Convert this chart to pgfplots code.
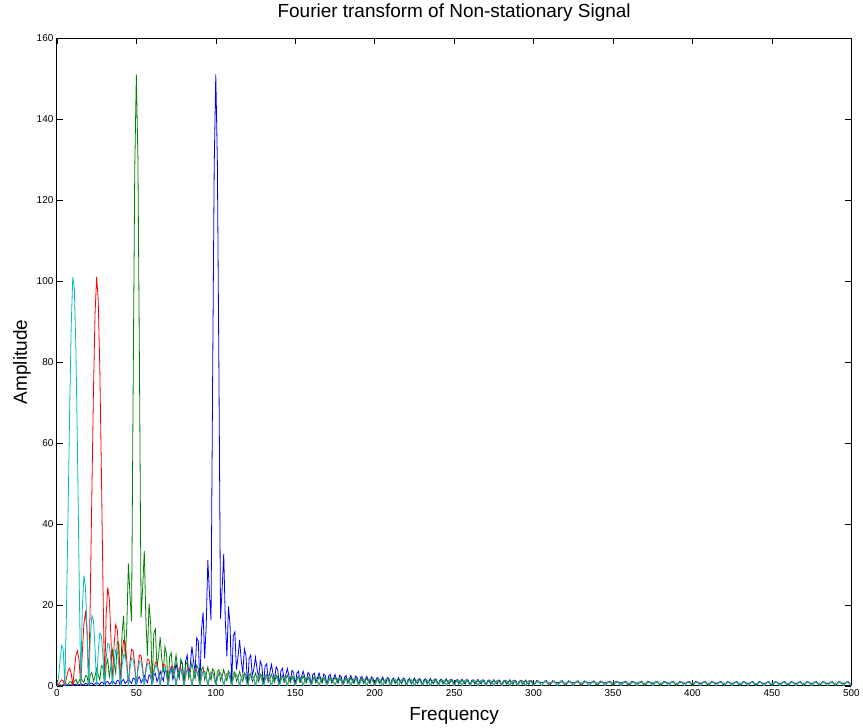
\documentclass[border=0pt]{standalone}
\usepackage{fontspec}
\setmainfont{Liberation Sans}
\usepackage{pgfplots}
\usepackage{pgfplotstable}
\pgfplotsset{compat=1.18}
\definecolor{mblue}{rgb}{0,0,1}
\definecolor{mgreen}{rgb}{0,0.5,0}
\definecolor{mred}{rgb}{1,0,0}
\definecolor{mcyan}{rgb}{0,0.75,0.75}

\pgfplotstableread{
k b g r c
0 0 0 0 0
1 0.03 0.10 0.30 1.89
2 0.06 0.24 0.97 6.31
3 0.03 0.12 1.47 9.98
4 0.07 0.30 1.23 8.91
5 0.16 0.64 0 0
6 0.11 0.46 1.91 17.55
7 0.07 0.28 3.68 41.55
8 0.24 0.99 4.32 67.27
9 0.23 0.96 3.10 88.65
10 0 0 0 101
11 0.29 1.19 4.09 98.0
12 0.37 1.54 7.55 82.6
13 0.13 0.55 8.63 57.0
14 0.27 1.14 6.11 27.3
15 0.49 2.10 0 0
16 0.31 1.33 8.11 19.2
17 0.17 0.76 15.31 27.2
18 0.56 2.50 18.10 24.3
19 0.51 2.29 13.47 13.6
20 0 0 0 0
21 0.57 2.63 21.36 11.5
22 0.70 3.30 47.23 17.3
23 0.24 1.15 72.52 16.2
24 0.48 2.33 91.67 9.44
25 0.85 4.24 101 0
26 0.52 2.67 95.4 8.45
27 0.29 1.50 78.6 12.99
28 0.92 4.94 53.3 12.39
29 0.82 4.50 25.1 7.32
30 0 0 0 0
31 0.88 5.19 17.3 6.74
32 1.08 6.56 24.3 10.48
33 0.36 2.30 21.5 10.10
34 0.72 4.73 12.0 6.03
35 1.27 8.74 0 0
36 0.77 5.60 10.0 5.63
37 0.42 3.22 15.1 8.83
38 1.34 10.89 14.0 8.56
39 1.18 10.26 8.1 5.14
40 0 0 0 0
41 1.27 12.89 7.27 4.85
42 1.54 17.27 11.2 7.64
43 0.52 6.50 10.6 7.44
44 1.02 14.60 6.28 4.49
45 1.80 30.15 0 0
46 1.09 22.42 5.77 4.27
47 0.59 15.89 8.98 6.75
48 1.89 74.13 8.65 6.59
49 1.66 127.4 5.16 3.99
50 0 151 0 0
51 1.77 130.0 4.83 3.82
52 2.16 77.2 7.58 6.05
53 0.72 16.9 7.35 5.92
54 1.43 24.3 4.42 3.59
55 2.51 33.35 0 0
56 1.53 16.5 4.17 3.45
57 0.83 7.48 6.56 5.48
58 2.65 20.3 6.40 5.38
59 2.33 15.5 3.86 3.27
60 0 0 0 0
61 2.50 12.9 3.69 3.15
62 3.05 14.0 5.84 5.01
63 1.03 4.2 5.71 4.93
64 2.03 7.5 3.45 3.0
65 3.58 12.0 0 0
66 2.19 6.66 3.32 2.90
67 1.20 3.31 5.26 4.62
68 3.83 9.69 5.15 4.55
69 3.39 7.86 3.12 2.77
70 0 0 0 0
71 3.69 7.19 3.01 2.69
72 4.53 8.12 4.78 4.29
73 1.54 2.54 4.70 4.23
74 3.06 4.65 2.85 2.58
75 5.46 7.64 0 0
76 3.37 4.34 2.76 2.51
77 1.86 2.21 4.39 4.0
78 6.03 6.59 4.33 3.95
79 5.41 5.44 2.63 2.41
80 0 0 0 0
81 6.07 5.14 2.56 2.35
82 7.58 5.88 4.07 3.75
83 2.62 1.86 4.01 3.70
84 5.34 3.45 2.45 2.26
85 9.75 5.73 0 0
86 6.18 3.29 2.38 2.21
87 3.52 1.69 3.79 3.53
88 11.81 5.08 3.74 3.48
89 11.03 4.23 2.28 2.13
90 0 0 0 0
91 13.63 4.05 2.22 2.11
92 18.13 4.67 3.55 3.38
93 6.77 1.49 3.51 3.34
94 15.11 2.78 2.14 2.04
95 31.01 4.63 0 0
96 22.92 2.68 2.10 2.0
97 16.14 1.38 3.37 3.20
98 74.9 4.17 3.34 3.17
99 128.1 3.49 2.05 1.94
100 151 0 0 0
101 129.4 3.43 2.01 1.91
102 76.4 3.98 3.21 3.05
103 16.6 1.27 3.19 3.02
104 23.9 2.38 1.95 1.85
105 32.6 3.98 0 0
106 16.1 2.31 1.91 1.82
107 7.26 1.20 3.05 2.92
108 19.6 3.63 3.02 2.89
109 14.9 3.05 1.85 1.77
110 0 0 0 0
111 12.3 2.98 1.81 1.74
112 13.3 3.45 2.90 2.79
113 4.0 1.11 2.88 2.77
114 7.1 2.08 1.76 1.69
115 11.35 3.49 0 0
116 6.3 2.03 1.73 1.66
117 3.1 1.05 2.78 2.67
118 9.1 3.20 2.75 2.64
119 7.4 2.69 1.69 1.62
120 0 0 0 0
121 6.7 2.65 1.66 1.60
122 7.6 3.07 2.66 2.57
123 2.4 0.99 2.63 2.55
124 4.3 1.86 1.62 1.56
125 7.07 3.12 0 0
126 4.0 1.82 1.59 1.54
127 2.0 0.95 2.55 2.47
128 6.1 2.88 2.53 2.45
129 5.0 2.43 1.55 1.51
130 0 0 0 0
131 4.8 2.38 1.53 1.48
132 5.4 2.78 2.45 2.38
133 1.7 0.89 2.43 2.37
134 3.2 1.69 1.49 1.45
135 5.3 2.84 0 0
136 3.0 1.66 1.48 1.43
137 1.6 0.86 2.37 2.30
138 4.7 2.63 2.35 2.28
139 3.9 2.22 1.44 1.41
140 0 0 0 0
141 3.7 2.18 1.42 1.38
142 4.3 2.55 2.28 2.23
143 1.4 0.82 2.26 2.21
144 2.6 1.55 1.39 1.36
145 4.27 2.61 0 0
146 2.5 1.52 1.37 1.34
147 1.3 0.79 2.20 2.15
148 3.8 2.42 2.19 2.14
149 3.2 2.04 1.34 1.31
150 0 0 0 0
151 3.1 2.01 1.32 1.29
152 3.6 2.35 2.12 2.08
153 1.1 0.76 2.11 2.06
154 2.2 1.43 1.29 1.27
155 3.6 2.41 0 0
156 2.1 1.41 1.28 1.25
157 1.1 0.74 2.04 2.02
158 3.3 2.24 2.04 2.01
159 2.8 1.90 1.25 1.23
160 0 0 0 0
161 2.7 1.88 1.23 1.22
162 3.1 2.19 1.98 1.96
163 1.0 0.71 1.97 1.94
164 1.9 1.33 1.21 1.19
165 3.15 2.26 0 0
166 1.8 1.32 1.19 1.18
167 0.95 0.69 1.91 1.90
168 2.9 2.10 1.90 1.89
169 2.4 1.78 1.17 1.16
170 0 0 0 0
171 2.4 1.76 1.16 1.15
172 2.8 2.05 1.86 1.84
173 0.9 0.66 1.85 1.84
174 1.7 1.25 1.14 1.13
175 2.8 2.12 0 0
176 1.6 1.24 1.12 1.12
177 0.85 0.65 1.81 1.80
178 2.6 1.98 1.80 1.79
179 2.2 1.67 1.11 1.10
180 0 0 0 0
181 2.1 1.66 1.09 1.09
182 2.5 1.94 1.76 1.75
183 0.8 0.63 1.75 1.74
184 1.5 1.19 1.08 1.07
185 2.54 2.0 0 0
186 1.5 1.17 1.06 1.06
187 0.77 0.61 1.71 1.71
188 2.4 1.87 1.70 1.70
189 2.0 1.59 1.05 1.05
190 0 0 0 0
191 2.0 1.57 1.04 1.04
192 2.3 1.84 1.67 1.67
193 0.74 0.59 1.67 1.66
194 1.4 1.12 1.03 1.03
195 2.34 1.90 0 0
196 1.4 1.11 1.02 1.02
197 0.71 0.58 1.65 1.65
198 2.2 1.78 1.65 1.64
199 1.8 1.50 1.02 1.01
200 0 0 0 0
201 1.75 1.43 0.99 0.98
202 2.05 1.68 1.61 1.59
203 0.67 0.55 1.61 1.59
204 1.27 1.04 0.99 0.98
205 2.16 1.77 0 0
206 1.27 1.04 0.99 0.98
207 0.67 0.55 1.61 1.59
208 2.05 1.68 1.61 1.59
209 1.75 1.43 0.99 0.98
210 0 0 0 0
211 1.63 1.37 0.95 0.94
212 1.91 1.61 1.54 1.52
213 0.62 0.52 1.54 1.52
214 1.18 0.99 0.95 0.94
215 2.01 1.69 0 0
216 1.18 0.99 0.95 0.94
217 0.62 0.52 1.54 1.52
218 1.91 1.61 1.54 1.52
219 1.63 1.37 0.95 0.94
220 0 0 0 0
221 1.54 1.31 0.91 0.91
222 1.81 1.54 1.47 1.46
223 0.59 0.50 1.47 1.46
224 1.12 0.95 0.91 0.91
225 1.90 1.62 0 0
226 1.12 0.95 0.91 0.91
227 0.59 0.50 1.47 1.46
228 1.81 1.54 1.47 1.46
229 1.54 1.31 0.91 0.91
230 0 0 0 0
231 1.46 1.25 0.88 0.87
232 1.71 1.47 1.43 1.41
233 0.56 0.48 1.43 1.41
234 1.06 0.91 0.88 0.87
235 1.80 1.55 0 0
236 1.06 0.91 0.88 0.87
237 0.56 0.48 1.43 1.41
238 1.71 1.47 1.43 1.41
239 1.46 1.25 0.88 0.87
240 0 0 0 0
241 1.38 1.21 0.85 0.85
242 1.62 1.43 1.38 1.37
243 0.53 0.46 1.38 1.37
244 1.00 0.88 0.85 0.85
245 1.70 1.50 0 0
246 1.00 0.88 0.85 0.85
247 0.53 0.46 1.38 1.37
248 1.62 1.43 1.38 1.37
249 1.38 1.21 0.85 0.85
250 0 0 0 0
251 1.31 1.17 0.83 0.82
252 1.54 1.38 1.34 1.33
253 0.50 0.45 1.34 1.33
254 0.95 0.85 0.83 0.82
255 1.62 1.45 0 0
256 0.95 0.85 0.83 0.82
257 0.50 0.45 1.34 1.33
258 1.54 1.38 1.34 1.33
259 1.31 1.17 0.83 0.82
260 0 0 0 0
261 1.26 1.13 0.81 0.79
262 1.48 1.33 1.30 1.28
263 0.48 0.43 1.30 1.28
264 0.92 0.82 0.81 0.79
265 1.56 1.40 0 0
266 0.92 0.82 0.81 0.79
267 0.48 0.43 1.30 1.28
268 1.48 1.33 1.30 1.28
269 1.26 1.13 0.81 0.79
270 0 0 0 0
271 1.21 1.10 0.78 0.78
272 1.43 1.29 1.26 1.26
273 0.46 0.42 1.26 1.26
274 0.88 0.80 0.78 0.78
275 1.50 1.36 0 0
276 0.88 0.80 0.78 0.78
277 0.46 0.42 1.26 1.26
278 1.43 1.29 1.26 1.26
279 1.21 1.10 0.78 0.78
280 0 0 0 0
281 1.17 1.07 0.76 0.75
282 1.38 1.26 1.24 1.22
283 0.45 0.41 1.24 1.22
284 0.85 0.78 0.76 0.75
285 1.45 1.32 0 0
286 0.85 0.78 0.76 0.75
287 0.45 0.41 1.24 1.22
288 1.38 1.26 1.24 1.22
289 1.17 1.07 0.76 0.75
290 0 0 0 0
291 1.13 1.04 0.75 0.74
292 1.33 1.23 1.21 1.19
293 0.43 0.40 1.21 1.19
294 0.82 0.76 0.75 0.74
295 1.40 1.29 0 0
296 0.82 0.76 0.75 0.74
297 0.43 0.40 1.21 1.19
298 1.33 1.23 1.21 1.19
299 1.13 1.04 0.75 0.74
300 0 0 0 0
}\mainT

\pgfplotstableread{
k b g
300 0 0
302 1.29 1.19
304 0.80 0.74
306 0.80 0.74
308 1.29 1.19
310 0 0
312 1.26 1.16
314 0.78 0.72
316 0.78 0.72
318 1.26 1.16
320 0 0
322 1.23 1.14
324 0.76 0.71
326 0.76 0.71
328 1.23 1.14
330 0 0
332 1.20 1.11
334 0.74 0.69
336 0.74 0.69
338 1.20 1.11
340 0 0
342 1.17 1.09
344 0.72 0.68
346 0.72 0.68
348 1.17 1.09
350 0 0
352 1.14 1.07
354 0.71 0.66
356 0.71 0.66
358 1.14 1.07
360 0 0
362 1.12 1.06
364 0.69 0.65
366 0.69 0.65
368 1.12 1.06
370 0 0
372 1.10 1.05
374 0.68 0.65
376 0.68 0.65
378 1.10 1.05
380 0 0
382 1.08 1.03
384 0.67 0.64
386 0.67 0.64
388 1.08 1.03
390 0 0
392 1.07 1.02
394 0.66 0.63
396 0.66 0.63
398 1.07 1.02
400 0 0
402 1.06 1.01
404 0.65 0.62
406 0.65 0.62
408 1.06 1.01
410 0 0
412 1.05 1.00
414 0.65 0.62
416 0.65 0.62
418 1.05 1.00
420 0 0
422 1.04 0.99
424 0.64 0.61
426 0.64 0.61
428 1.04 0.99
430 0 0
432 1.03 0.99
434 0.64 0.61
436 0.64 0.61
438 1.03 0.99
440 0 0
442 1.02 0.98
444 0.63 0.61
446 0.63 0.61
448 1.02 0.98
450 0 0
452 1.02 0.98
454 0.63 0.61
456 0.63 0.61
458 1.02 0.98
460 0 0
462 1.01 0.97
464 0.62 0.60
466 0.62 0.60
468 1.01 0.97
470 0 0
472 1.01 0.97
474 0.62 0.60
476 0.62 0.60
478 1.01 0.97
480 0 0
482 1.00 0.96
484 0.62 0.59
486 0.62 0.59
488 1.00 0.96
490 0 0
492 1.00 0.96
494 0.62 0.59
496 0.62 0.59
498 1.00 0.96
500 0 0
}\tailBG

\pgfplotstableread{
k r c
300 0 0
301 0.72 0.71
303 1.17 1.16
305 0 0
307 1.17 1.16
309 0.72 0.71
311 0.71 0.70
313 1.14 1.13
315 0 0
317 1.14 1.13
319 0.71 0.70
321 0.69 0.68
323 1.12 1.11
325 0 0
327 1.12 1.11
329 0.69 0.68
331 0.68 0.67
333 1.09 1.08
335 0 0
337 1.09 1.08
339 0.68 0.67
341 0.66 0.65
343 1.07 1.06
345 0 0
347 1.07 1.06
349 0.66 0.65
351 0.65 0.64
353 1.06 1.05
355 0 0
357 1.06 1.05
359 0.65 0.64
361 0.64 0.63
363 1.04 1.03
365 0 0
367 1.04 1.03
369 0.64 0.63
371 0.64 0.63
373 1.03 1.02
375 0 0
377 1.03 1.02
379 0.64 0.63
381 0.62 0.61
383 1.01 1.00
385 0 0
387 1.01 1.00
389 0.62 0.61
391 0.62 0.61
393 1.00 0.99
395 0 0
397 1.00 0.99
399 0.62 0.61
401 0.61 0.60
403 0.99 0.98
405 0 0
407 0.99 0.98
409 0.61 0.60
411 0.61 0.60
413 0.98 0.97
415 0 0
417 0.98 0.97
419 0.61 0.60
421 0.60 0.59
423 0.97 0.96
425 0 0
427 0.97 0.96
429 0.60 0.59
431 0.60 0.59
433 0.97 0.96
435 0 0
437 0.97 0.96
439 0.60 0.59
441 0.59 0.58
443 0.96 0.95
445 0 0
447 0.96 0.95
449 0.59 0.58
451 0.59 0.58
453 0.96 0.95
455 0 0
457 0.96 0.95
459 0.59 0.58
461 0.59 0.58
463 0.95 0.94
465 0 0
467 0.95 0.94
469 0.59 0.58
471 0.59 0.58
473 0.95 0.94
475 0 0
477 0.95 0.94
479 0.59 0.58
481 0.59 0.58
483 0.95 0.94
485 0 0
487 0.95 0.94
489 0.59 0.58
491 0.59 0.58
493 0.95 0.94
495 0 0
497 0.95 0.94
499 0.59 0.58
500 0 0
}\tailRC

\begin{document}
\begin{tikzpicture}
\begin{axis}[
  scale only axis,
  width=796pt, height=649pt,
  xmin=0, xmax=500, ymin=0, ymax=160,
  xtick={0,50,...,500}, ytick={0,20,...,160},
  tick align=inside,
  major tick length=6pt,
  tick style={black, line width=0.5pt},
  axis line style={black, line width=0.8pt},
  /pgf/number format/assume math mode=true,
  ticklabel style={font=\fontsize{10}{12}\selectfont},
  title={Fourier transform of Non-stationary Signal},
  title style={font=\fontsize{19}{22}\selectfont, at={(axis description cs:0.5,1)}, anchor=base, yshift=15pt},
  xlabel={Frequency},
  xlabel style={font=\fontsize{19}{22}\selectfont, at={(axis description cs:0.5,0)}, anchor=base, yshift=-35pt},
  ylabel={Amplitude},
  ylabel style={font=\fontsize{19}{22}\selectfont, at={(axis description cs:-0.0377,0.5)}, anchor=base},
  every axis plot/.append style={line width=0.8pt, mark=none},
]
\addplot[mblue] table[x=k, y=b] {\mainT};
\addplot[mblue] table[x=k, y=b] {\tailBG};
\addplot[mgreen] table[x=k, y=g] {\mainT};
\addplot[mgreen] table[x=k, y=g] {\tailBG};
\addplot[mred] table[x=k, y=r] {\mainT};
\addplot[mred] table[x=k, y=r] {\tailRC};
\addplot[mcyan] table[x=k, y=c] {\mainT};
\addplot[mcyan] table[x=k, y=c] {\tailRC};
\end{axis}
\path ([xshift=-57pt,yshift=-40pt]current axis.south west) rectangle ([xshift=10pt,yshift=36pt]current axis.north east);
\end{tikzpicture}
\end{document}
